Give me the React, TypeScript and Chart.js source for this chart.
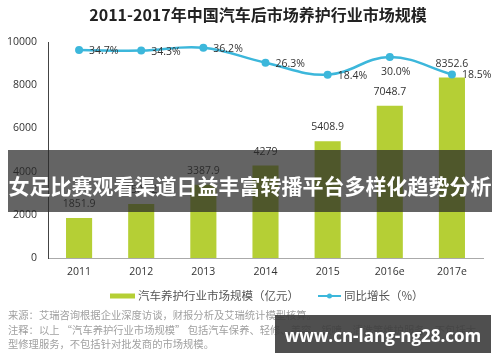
import React, { useEffect, useRef } from "react";
import { Chart, registerables } from "chart.js";

Chart.register(...registerables);

const years = ["2011", "2012", "2013", "2014", "2015", "2016e", "2017e"];
const marketSize = [1851.9, 2505.2, 3387.9, 4279, 5408.9, 7048.7, 8352.6];
const growth = [34.7, 34.3, 36.2, 26.3, 18.4, 30.0, 18.5];
const growthLabelPos = ["right", "right", "right", "right", "right", "below", "right"];
const yTickStep = 2000;
const yMax = 10000;
const seriesNames = ["汽车养护行业市场规模（亿元）", "同比增长（%）"];
const titleText = "2011-2017年中国汽车后市场养护行业市场规模";
const bannerText = "女足比赛观看渠道日益丰富转播平台多样化趋势分析";
const watermarkText = "www.cn-lang-ng28.com";
const footnotes = [
  "来源：艾瑞咨询根据企业深度访谈，财报分析及艾瑞统计模型核算。",
  "注释：以上 “汽车养护行业市场规模” 包括汽车保养、轻修、美容、钣喷、清洗等维护服务，不包括大",
  "型修理服务，不包括针对批发商的市场规模。",
];

const BAR_COLOR = "#b5cf35";
const LINE_COLOR = "#3cb7db";
const LABEL_FONT = '10.5px "Open Sans", "Noto Sans CJK SC", sans-serif';
const LEGEND_FONT = '11.5px "Noto Sans CJK SC", sans-serif';

const valueLabelPlugin = {
  id: "valueLabels",
  afterDatasetsDraw(chart: any) {
    const ctx = chart.ctx;
    ctx.save();
    ctx.font = LABEL_FONT;
    ctx.fillStyle = "#333";
    ctx.textBaseline = "middle";
    const barMeta = chart.getDatasetMeta(0);
    barMeta.data.forEach((el: any, i: number) => {
      ctx.textAlign = "center";
      ctx.fillText(String(marketSize[i]), el.x, el.y - 14);
    });
    const lineMeta = chart.getDatasetMeta(1);
    lineMeta.data.forEach((el: any, i: number) => {
      const t = growth[i].toFixed(1) + "%";
      if (growthLabelPos[i] === "below") {
        ctx.textAlign = "center";
        ctx.fillText(t, el.x + 6, el.y + 15);
      } else {
        ctx.textAlign = "left";
        ctx.fillText(t, el.x + 10, el.y + 1);
      }
    });
    ctx.restore();
  },
};

// Simple legend drawn under the x axis, styled like the source image
const legendPlugin = {
  id: "customLegend",
  afterDraw(chart: any) {
    const ctx = chart.ctx;
    const ds = chart.data.datasets;
    const y = chart.chartArea.bottom + 38;
    ctx.save();
    ctx.font = LEGEND_FONT;
    ctx.fillStyle = "#555";
    ctx.textBaseline = "middle";
    ctx.textAlign = "left";
    let x = 110;
    // bar item
    ctx.fillStyle = ds[0].backgroundColor;
    ctx.fillRect(x, y - 2.5, 25, 5);
    x += 28;
    ctx.fillStyle = "#555";
    ctx.fillText(ds[0].label, x, y);
    x += ctx.measureText(ds[0].label).width + 19;
    // line item
    ctx.strokeStyle = ds[1].borderColor;
    ctx.lineWidth = 2;
    ctx.beginPath();
    ctx.moveTo(x, y);
    ctx.lineTo(x + 23, y);
    ctx.stroke();
    ctx.fillStyle = ds[1].borderColor;
    ctx.beginPath();
    ctx.arc(x + 11.5, y, 2.5, 0, Math.PI * 2);
    ctx.fill();
    x += 26;
    ctx.fillStyle = "#555";
    ctx.fillText(ds[1].label, x, y);
    ctx.restore();
  },
};

export default function App() {
  const canvasRef = useRef<HTMLCanvasElement | null>(null);

  useEffect(() => {
    const canvas = canvasRef.current;
    if (!canvas) return;
    const chart = new Chart(canvas, {
      type: "bar",
      data: {
        labels: years,
        datasets: [
          {
            type: "bar",
            label: seriesNames[0],
            data: marketSize,
            backgroundColor: BAR_COLOR,
            borderWidth: 0,
            barPercentage: 0.42,
            categoryPercentage: 1.0,
            yAxisID: "y",
            order: 2,
          } as any,
          {
            type: "line",
            label: seriesNames[1],
            data: growth,
            borderColor: LINE_COLOR,
            backgroundColor: LINE_COLOR,
            borderWidth: 2.5,
            pointRadius: 4,
            pointBackgroundColor: LINE_COLOR,
            pointBorderWidth: 0,
            tension: 0.4,
            yAxisID: "y1",
            order: 1,
          } as any,
        ],
      },
      options: {
        responsive: false,
        animation: false,
        devicePixelRatio: 1,
        layout: { padding: { top: 42, right: 17, bottom: 81, left: 0 } },
        plugins: {
          title: { display: false },
          tooltip: { enabled: false },
          legend: { display: false },
        },
        scales: {
          x: {
            grid: { display: false, drawTicks: false },
            border: { display: true, color: "#aaa", width: 1 },
            ticks: {
              color: "#333",
              padding: 8,
              font: { size: 10.5, family: '"Open Sans", sans-serif' },
            },
            afterFit: (s: any) => {
              s.height = 23;
            },
          },
          y: {
            min: 0,
            max: yMax,
            grid: { display: false, drawTicks: false },
            border: { display: true, color: "#444", width: 1 },
            ticks: {
              stepSize: yTickStep,
              color: "#333",
              padding: 11,
              font: { size: 10.5, family: '"Open Sans", sans-serif' },
              callback: (v: any) => String(v),
            },
            afterFit: (s: any) => {
              s.width = 48;
            },
          },
          y1: {
            display: false,
            min: -103,
            max: 40,
          },
        },
      },
      plugins: [valueLabelPlugin, legendPlugin],
    });
    return () => chart.destroy();
  }, []);

  return (
    <div
      style={{
        position: "absolute",
        left: 0,
        top: 0,
        width: 500,
        height: 362,
        background: "#fff",
        overflow: "hidden",
      }}
    >
      <canvas
        ref={canvasRef}
        width={500}
        height={362}
        style={{ position: "absolute", left: 0, top: 0, width: 500, height: 362 }}
      />
      <div
        style={{
          position: "absolute",
          left: 8,
          top: 3,
          width: 500,
          textAlign: "center",
          font: 'bold 16px "Noto Sans CJK SC", sans-serif',
          lineHeight: "22px",
          color: "#222",
          whiteSpace: "nowrap",
        }}
      >
        {titleText}
      </div>
      <div
        style={{
          position: "absolute",
          left: 8,
          top: 150,
          width: 484,
          height: 54,
          paddingTop: 8,
          background: "rgba(40,40,40,0.72)",
          color: "#fff",
          font: 'bold 21px "Noto Sans CJK SC", sans-serif',
          lineHeight: "54px",
          textAlign: "center",
          whiteSpace: "nowrap",
        }}
      >
        {bannerText}
      </div>
      <div
        style={{
          position: "absolute",
          left: 8,
          top: 308,
          color: "#a0a0a0",
          font: '10.3px "Noto Sans CJK SC", sans-serif',
          lineHeight: "14.5px",
          whiteSpace: "nowrap",
        }}
      >
        {footnotes.map((f, i) => (
          <div key={i}>{f}</div>
        ))}
      </div>
      <div
        style={{
          position: "absolute",
          left: 275,
          top: 315,
          width: 216,
          height: 35,
          paddingTop: 3,
          background: "rgba(60,60,60,0.9)",
          color: "#fff",
          font: 'bold 17px "Open Sans", sans-serif',
          lineHeight: "35px",
          textAlign: "center",
          whiteSpace: "nowrap",
        }}
      >
        {watermarkText}
      </div>
    </div>
  );
}
